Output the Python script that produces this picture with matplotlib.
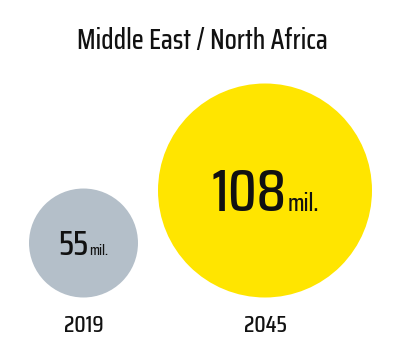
import matplotlib
matplotlib.use("Agg")
import matplotlib.pyplot as plt
from matplotlib.patches import Circle

title = "Middle East / North Africa"
years = ["2019", "2045"]
values = [55, 108]
unit = "mil."
colors = ["#b4bfc9", "#ffe500"]

FAM = ["Saira Condensed", "DejaVu Sans"]

W, H = 402, 360
fig = plt.figure(figsize=(W / 100, H / 100), dpi=100)
ax = fig.add_axes([0, 0, 1, 1])
ax.set_xlim(0, W)
ax.set_ylim(H, 0)
ax.axis("off")

centers_x = [83.5, 265]
bottom = 297.5
scale = 107 / 108  # radius proportional to value

ax.text(W / 2 + 1, 49, title, ha="center", va="baseline", fontsize=20,
        family=FAM, fontweight=500, color="#111111")

renderer = fig.canvas.get_renderer()
big_sizes = [24.5, 43]
small_sizes = [10.5, 17.5]
for i, (yr, v) in enumerate(zip(years, values)):
    r = v * scale
    cx = centers_x[i]
    cy = bottom - r
    ax.add_patch(Circle((cx, cy), r, facecolor=colors[i], edgecolor="none"))
    digit_h = big_sizes[i] * 100 / 72 * 0.70
    base = cy + digit_h / 2
    t1 = ax.text(0, base, str(v), ha="left", va="baseline",
                 fontsize=big_sizes[i], family=FAM, fontweight=500,
                 color="#111111")
    t2 = ax.text(0, base, unit, ha="left", va="baseline",
                 fontsize=small_sizes[i], family=FAM, fontweight=500,
                 color="#111111")
    w1 = t1.get_window_extent(renderer).width
    w2 = t2.get_window_extent(renderer).width
    gap = 1
    total = w1 + gap + w2
    x0 = cx - total / 2
    t1.set_x(x0)
    t2.set_x(x0 + w1 + gap)
    ax.text(cx, 332, yr, ha="center", va="baseline", fontsize=17,
            family=FAM, fontweight=500, color="#111111")

fig.savefig("out.png", dpi=100, facecolor="white")
